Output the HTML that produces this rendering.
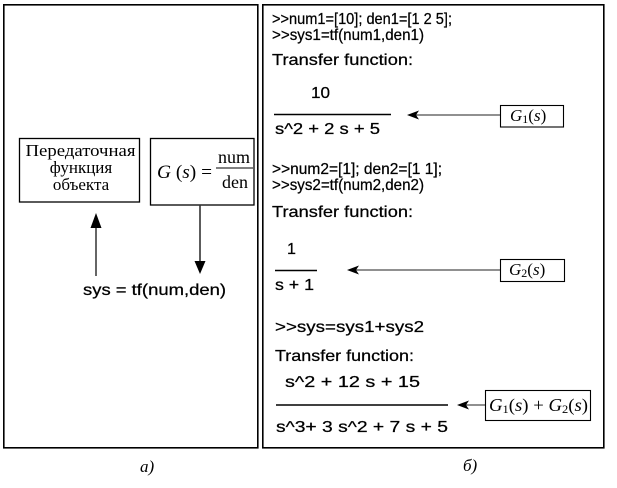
<!DOCTYPE html>
<html>
<head>
<meta charset="utf-8">
<style>
html,body{margin:0;padding:0;background:#fff;}
svg{display:block;}
.s{font-family:"Liberation Sans",Arial,sans-serif;font-size:16px;fill:#000;stroke:#000;stroke-width:0.25;}
.c{font-family:"Liberation Sans",Arial,sans-serif;font-size:16px;fill:#000;stroke:#000;stroke-width:0.25;}
.t{font-family:"Liberation Serif","Times New Roman",serif;fill:#000;}
</style>
</head>
<body>
<svg width="617" height="488" viewBox="0 0 617 488" xmlns="http://www.w3.org/2000/svg">
<rect x="0" y="0" width="617" height="488" fill="#fff"/>

<!-- panels -->
<g fill="none" stroke="#000" stroke-width="1.6">
  <rect x="3.8" y="4.8" width="254" height="443"/>
  <rect x="262.8" y="4.8" width="341" height="443"/>
</g>

<!-- ===== Left panel (a) ===== -->
<g fill="none" stroke="#000" stroke-width="1.3">
  <rect x="19.5" y="138.5" width="120" height="63.5"/>
  <rect x="150.5" y="138.5" width="103.5" height="66.5"/>
</g>
<g class="t" font-size="17" text-anchor="middle">
  <text x="80.5" y="156" textLength="110" lengthAdjust="spacingAndGlyphs">Передаточная</text>
  <text x="81" y="173">функция</text>
  <text x="81" y="190">объекта</text>
</g>
<text class="t" font-size="19" x="157" y="178" textLength="55" lengthAdjust="spacingAndGlyphs"><tspan font-style="italic">G</tspan> (<tspan font-style="italic">s</tspan>) =</text>
<text class="t" font-size="18" x="234" y="163" text-anchor="middle">num</text>
<line x1="216" y1="168" x2="253" y2="168" stroke="#000" stroke-width="1"/>
<text class="t" font-size="18" x="235" y="188" text-anchor="middle">den</text>

<!-- up arrow -->
<line x1="96" y1="276" x2="96" y2="224" stroke="#000" stroke-width="1.2"/>
<polygon points="96,213 90.5,228 101.5,228" fill="#000"/>
<!-- down arrow -->
<line x1="200" y1="205" x2="200" y2="263" stroke="#333" stroke-width="1.6"/>
<polygon points="200,274 194.5,261 205.5,261" fill="#000"/>

<text class="s" font-size="17" x="83" y="295" textLength="143" lengthAdjust="spacingAndGlyphs">sys = tf(num,den)</text>

<text class="t" font-size="17" font-style="italic" x="140" y="472">а)</text>

<!-- ===== Right panel (b) ===== -->
<!-- block 1 -->
<text class="c" x="272" y="24" textLength="180" lengthAdjust="spacingAndGlyphs">&gt;&gt;num1=[10]; den1=[1 2 5];</text>
<text class="c" x="272" y="40" textLength="152" lengthAdjust="spacingAndGlyphs">&gt;&gt;sys1=tf(num1,den1)</text>
<text class="s" x="272" y="65" textLength="141" lengthAdjust="spacingAndGlyphs">Transfer function:</text>
<text class="s" x="311" y="98" textLength="19" lengthAdjust="spacingAndGlyphs">10</text>
<line x1="274" y1="114.5" x2="391" y2="114.5" stroke="#000" stroke-width="1.5"/>
<text class="s" x="275" y="134" textLength="105" lengthAdjust="spacingAndGlyphs">s^2 + 2 s + 5</text>
<line x1="416" y1="115" x2="500" y2="115" stroke="#222" stroke-width="1.1"/>
<polygon points="407,115 419,110.5 416,115 419,119.5" fill="#000"/>
<rect x="500.5" y="105.5" width="63" height="21.5" fill="none" stroke="#000" stroke-width="1.1"/>
<text class="t" font-size="17" x="510" y="121"><tspan font-style="italic">G</tspan><tspan font-size="12" dy="2">1</tspan><tspan dy="-2">(</tspan><tspan font-style="italic">s</tspan>)</text>

<!-- block 2 -->
<text class="c" x="272" y="174" textLength="170" lengthAdjust="spacingAndGlyphs">&gt;&gt;num2=[1]; den2=[1 1];</text>
<text class="c" x="272" y="190" textLength="152" lengthAdjust="spacingAndGlyphs">&gt;&gt;sys2=tf(num2,den2)</text>
<text class="s" x="272" y="217" textLength="141" lengthAdjust="spacingAndGlyphs">Transfer function:</text>
<text class="s" x="287" y="254">1</text>
<line x1="275" y1="270.5" x2="317" y2="270.5" stroke="#000" stroke-width="1.5"/>
<text class="s" x="275" y="290" textLength="39" lengthAdjust="spacingAndGlyphs">s + 1</text>
<line x1="356" y1="270" x2="500" y2="270" stroke="#222" stroke-width="1.1"/>
<polygon points="347,270 359,265.5 356,270 359,274.5" fill="#000"/>
<rect x="500.5" y="259.5" width="64" height="22" fill="none" stroke="#000" stroke-width="1.1"/>
<text class="t" font-size="17" x="509" y="275"><tspan font-style="italic">G</tspan><tspan font-size="12" dy="2">2</tspan><tspan dy="-2">(</tspan><tspan font-style="italic">s</tspan>)</text>

<!-- block 3 -->
<text class="s" x="275" y="332" textLength="149" lengthAdjust="spacingAndGlyphs">&gt;&gt;sys=sys1+sys2</text>
<text class="s" x="275" y="361" textLength="139" lengthAdjust="spacingAndGlyphs">Transfer function:</text>
<text class="s" x="285" y="387" textLength="135" lengthAdjust="spacingAndGlyphs">s^2 + 12 s + 15</text>
<line x1="276" y1="405" x2="448" y2="405" stroke="#000" stroke-width="1.5"/>
<text class="s" x="276" y="432" textLength="172" lengthAdjust="spacingAndGlyphs">s^3+  3 s^2 + 7 s + 5</text>
<line x1="466" y1="405" x2="485" y2="405" stroke="#222" stroke-width="1.1"/>
<polygon points="457,405 469,400.5 466,405 469,409.5" fill="#000"/>
<rect x="485.5" y="390.5" width="105" height="30" fill="none" stroke="#000" stroke-width="1.1"/>
<text class="t" font-size="18" x="489" y="411" textLength="99" lengthAdjust="spacingAndGlyphs"><tspan font-style="italic">G</tspan><tspan font-size="12" dy="2">1</tspan><tspan dy="-2">(</tspan><tspan font-style="italic">s</tspan>) + <tspan font-style="italic">G</tspan><tspan font-size="12" dy="2">2</tspan><tspan dy="-2">(</tspan><tspan font-style="italic">s</tspan>)</text>

<text class="t" font-size="17" font-style="italic" x="463" y="471">б)</text>
</svg>
</body>
</html>
